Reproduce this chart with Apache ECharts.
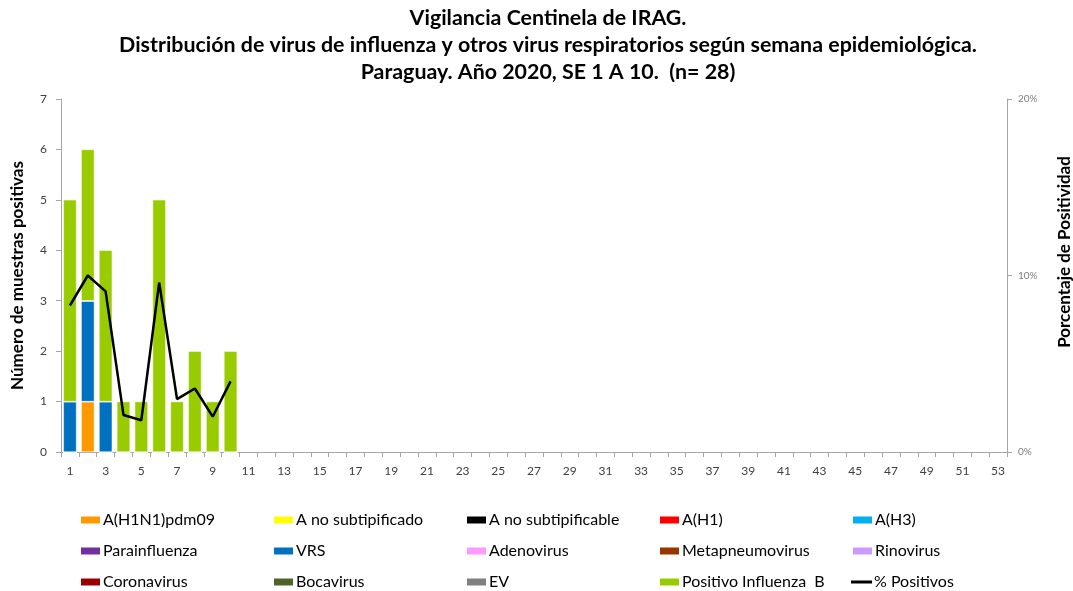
<!DOCTYPE html>
<html>
<head>
<meta charset="utf-8">
<script src="https://cdn.jsdelivr.net/npm/echarts@6/dist/echarts.min.js"></script>
<style>
html,body{margin:0;padding:0;background:#fff;}
#chart{width:1073px;height:591px;}
</style>
</head>
<body>
<div id="chart"></div>
<script>
// ---- Data ----
var weeks = [];
for (var w = 1; w <= 53; w++) weeks.push(String(w));

var seriesNames = ['A(H1N1)pdm09','A no subtipificado','A no subtipificable','A(H1)','A(H3)',
  'Parainfluenza','VRS','Adenovirus','Metapneumovirus','Rinovirus',
  'Coronavirus','Bocavirus','EV','Positivo Influenza  B'];
var seriesColors = ['#FF9900','#FFFF00','#000000','#FF0000','#00B0F0',
  '#7030A0','#0070C0','#FF99FF','#993300','#CC99FF',
  '#990000','#4F6228','#808080','#99CC00'];

// values per week, SE 1..10
var h1n1pdm09      = [0,1,0,0,0,0,0,0,0,0];
var aNoSubtipificado = [0,0,0,0,0,0,0,0,0,0];
var aNoSubtipificable = [0,0,0,0,0,0,0,0,0,0];
var aH1            = [0,0,0,0,0,0,0,0,0,0];
var aH3            = [0,0,0,0,0,0,0,0,0,0];
var parainfluenza  = [0,0,0,0,0,0,0,0,0,0];
var vrs            = [1,2,1,0,0,0,0,0,0,0];
var adenovirus     = [0,0,0,0,0,0,0,0,0,0];
var metapneumovirus = [0,0,0,0,0,0,0,0,0,0];
var rinovirus      = [0,0,0,0,0,0,0,0,0,0];
var coronavirus    = [0,0,0,0,0,0,0,0,0,0];
var bocavirus      = [0,0,0,0,0,0,0,0,0,0];
var ev             = [0,0,0,0,0,0,0,0,0,0];
var influenzaB     = [4,3,3,1,1,5,1,2,1,2];
var pctPositivos   = [8.3,10.0,9.1,2.1,1.8,9.6,3.0,3.6,2.0,4.0];

var leftTicks = [0,1,2,3,4,5,6,7];
var rightTicks = ['0%','10%','20%'];

var barData = [h1n1pdm09,aNoSubtipificado,aNoSubtipificable,aH1,aH3,parainfluenza,vrs,
  adenovirus,metapneumovirus,rinovirus,coronavirus,bocavirus,ev,influenzaB];

var FONT = "Lato,'Liberation Sans',sans-serif";

function pad(arr){
  var out = arr.slice();
  while (out.length < weeks.length) out.push(null);
  return out;
}

var series = [];
barData.forEach(function(d,i){
  series.push({
    name: seriesNames[i], type:'bar', stack:'total',
    barCategoryGap:'26%',
    itemStyle:{color:seriesColors[i], borderColor:'#fff', borderWidth:0.5},
    data: pad(d)
  });
});
series.push({
  name:'% Positivos', type:'line', yAxisIndex:1, symbol:'none', showSymbol:false,
  lineStyle:{color:'#000', width:2.5}, itemStyle:{color:'#000'},
  data: pad(pctPositivos)
});

// legend: 5 columns x 3 rows
var colX = [79,272,465,658,851];
var rowC = [522,553,584];
var allNames = seriesNames.concat(['% Positivos']);
var legends = allNames.map(function(n,i){
  var col = i % 5, row = Math.floor(i/5);
  var isLine = (n === '% Positivos');
  return {
    data:[{name:n, icon:'rect'}], left: colX[col], top: rowC[row] - 10, padding:0,
    itemWidth:21, itemHeight: isLine ? 3 : 9, itemGap:6,
    textStyle:{fontFamily:FONT, fontSize:16, color:'#000', padding:[0,0,0,-3]},
    selectedMode:false
  };
});

var chart = echarts.init(document.getElementById('chart'));
chart.setOption({
  backgroundColor:'#fff',
  animation:false,
  title:{
    text:'Vigilancia Centinela de IRAG.\nDistribución de virus de influenza y otros virus respiratorios según semana epidemiológica.\nParaguay. Año 2020, SE 1 A 10.  (n= 28)',
    left:543, top:0,
    textAlign:'center',
    textStyle:{fontFamily:FONT, fontSize:21.4, fontWeight:'bold', color:'#000', lineHeight:27}
  },
  legend: legends,
  graphic:[{
    type:'text', x:1065, y:252, rotation:Math.PI/2,
    style:{text:'Porcentaje de Positividad', align:'center', verticalAlign:'middle',
      font:"bold 17px Lato, 'Liberation Sans', sans-serif", fill:'#000'}
  }],
  grid:{left:61, right:66, top:99, bottom:139, containLabel:false, outerBoundsMode:'none'},
  xAxis:{
    type:'category', data:weeks,
    axisLine:{lineStyle:{color:'#A6A6A6'}},
    axisTick:{show:true, lineStyle:{color:'#A6A6A6'}, interval:0},
    axisLabel:{interval:1, color:'#404040', fontFamily:FONT, fontSize:12, margin:13}
  },
  yAxis:[{
    type:'value', min:0, max:7, interval:1,
    name:'Número de muestras positivas', nameLocation:'middle', nameGap:35, nameRotate:90,
    nameTextStyle:{fontFamily:FONT, fontSize:17, fontWeight:'bold', color:'#000'},
    axisLine:{show:true, lineStyle:{color:'#A6A6A6'}},
    axisTick:{show:true, lineStyle:{color:'#A6A6A6'}},
    splitLine:{show:false},
    axisLabel:{color:'#404040', fontFamily:FONT, fontSize:12, margin:14,
      formatter:function(v){ return leftTicks.indexOf(v) >= 0 ? String(v) : ''; }}
  },{
    type:'value', min:0, max:20, interval:10, position:'right',
    axisLine:{show:true, lineStyle:{color:'#A6A6A6'}},
    axisTick:{show:true, lineStyle:{color:'#A6A6A6'}},
    splitLine:{show:false},
    axisLabel:{color:'#7F7F7F', fontFamily:FONT, fontSize:10, margin:11,
      formatter:function(v){ return rightTicks[v/10]; }}
  }],
  series: series
});
</script>
</body>
</html>
